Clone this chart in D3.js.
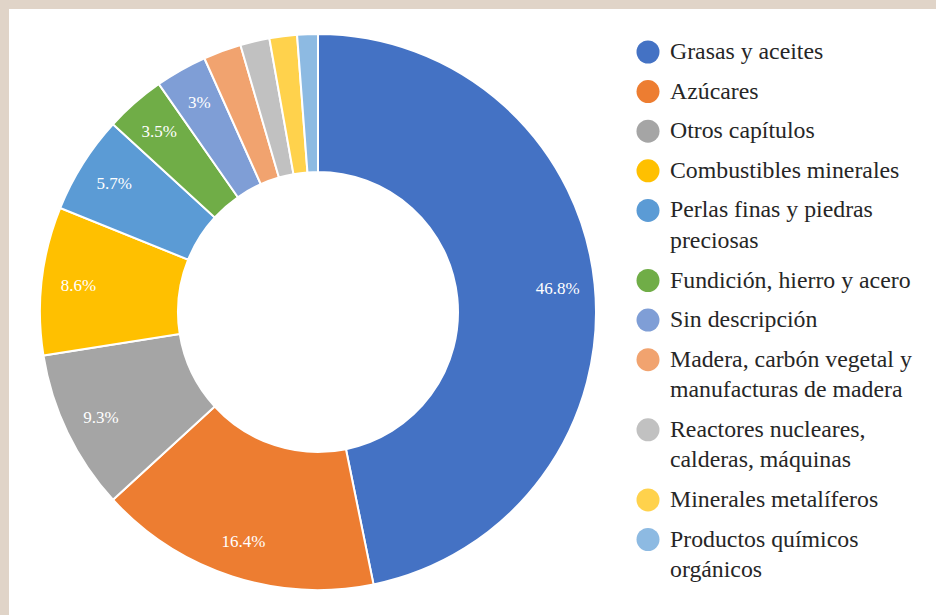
<!DOCTYPE html>
<html>
<head>
<meta charset="utf-8">
<script src="https://cdn.jsdelivr.net/npm/d3@7.9.0/dist/d3.min.js"></script>
<style>
  html, body { margin: 0; padding: 0; background: #e0d4c8; }
  svg { display: block; }
  .serif { font-family: "Liberation Serif", "Times New Roman", Tinos, Times, "DejaVu Serif", serif; }
</style>
</head>
<body>
<svg id="chart" width="936" height="615"></svg>
<script>
// slice names, split into legend lines
const labels = [
  ['Grasas y aceites'],
  ['Azúcares'],
  ['Otros capítulos'],
  ['Combustibles minerales'],
  ['Perlas finas y piedras', 'preciosas'],
  ['Fundición, hierro y acero'],
  ['Sin descripción'],
  ['Madera, carbón vegetal y', 'manufacturas de madera'],
  ['Reactores nucleares,', 'calderas, máquinas'],
  ['Minerales metalíferos'],
  ['Productos químicos', 'orgánicos']
];

// share in percent
const shares = [46.8, 16.4, 9.3, 8.6, 5.7, 3.5, 3, 2.2, 1.7, 1.6, 1.2];

// labels shown on the ring
const shownLabels = ['46.8%', '16.4%', '9.3%', '8.6%', '5.7%', '3.5%', '3%', '', '', '', ''];

const colors = [
  '#4472c4', '#ed7d31', '#a5a5a5', '#ffc000', '#5b9bd5', '#70ad47',
  '#7f9ed6', '#f1a36f', '#c1c1c1', '#ffd24c', '#8dbae2'
];

const svg = d3.select('#chart');

// white panel
svg.append('rect')
  .attr('x', 9)
  .attr('y', 9)
  .attr('width', 936 - 9)
  .attr('height', 615 - 9)
  .attr('fill', '#ffffff');

const cx = 318, cy = 312;
const outerR = 278, innerR = 140, labelR = 241;

const data = shares.map((v, i) => ({ name: labels[i], value: v, label: shownLabels[i], color: colors[i] }));

const pie = d3.pie()
  .sort(null)
  .value((d) => d.value);

const arc = d3.arc()
  .innerRadius(innerR)
  .outerRadius(outerR);

const labelArc = d3.arc()
  .innerRadius(labelR)
  .outerRadius(labelR);

const g = svg.append('g')
  .attr('transform', `translate(${cx},${cy})`);

const arcs = pie(data);

g.selectAll('path')
  .data(arcs)
  .join('path')
  .attr('d', arc)
  .attr('fill', (d) => d.data.color)
  .attr('stroke', '#ffffff')
  .attr('stroke-width', 2);

g.selectAll('text')
  .data(arcs.filter((d) => d.data.label))
  .join('text')
  .attr('class', 'serif')
  .attr('transform', (d) => `translate(${labelArc.centroid(d)})`)
  .attr('text-anchor', 'middle')
  .attr('dy', '0.35em')
  .attr('fill', '#ffffff')
  .style('font-size', '17px')
  .text((d) => d.data.label);

// legend
const legendX = 648, legendY0 = 52, rowStep = 39.6, lineStep = 30.5;

let extraLines = 0;
const legendRows = data.map((d, i) => {
  const y = legendY0 + rowStep * i + lineStep * extraLines;
  extraLines += d.name.length - 1;
  return { ...d, y };
});

const legend = svg.append('g');

const item = legend.selectAll('g')
  .data(legendRows)
  .join('g')
  .attr('transform', (d) => `translate(${legendX},${d.y})`);

item.append('circle')
  .attr('r', 11.5)
  .attr('fill', (d) => d.color);

item.append('text')
  .attr('class', 'serif')
  .attr('x', 22)
  .attr('y', 7)
  .attr('fill', '#262626')
  .style('font-size', '23.8px')
  .selectAll('tspan')
  .data((d) => d.name)
  .join('tspan')
  .attr('x', 22)
  .attr('dy', (d, i) => (i === 0 ? 0 : lineStep))
  .text((d) => d);
</script>
</body>
</html>
